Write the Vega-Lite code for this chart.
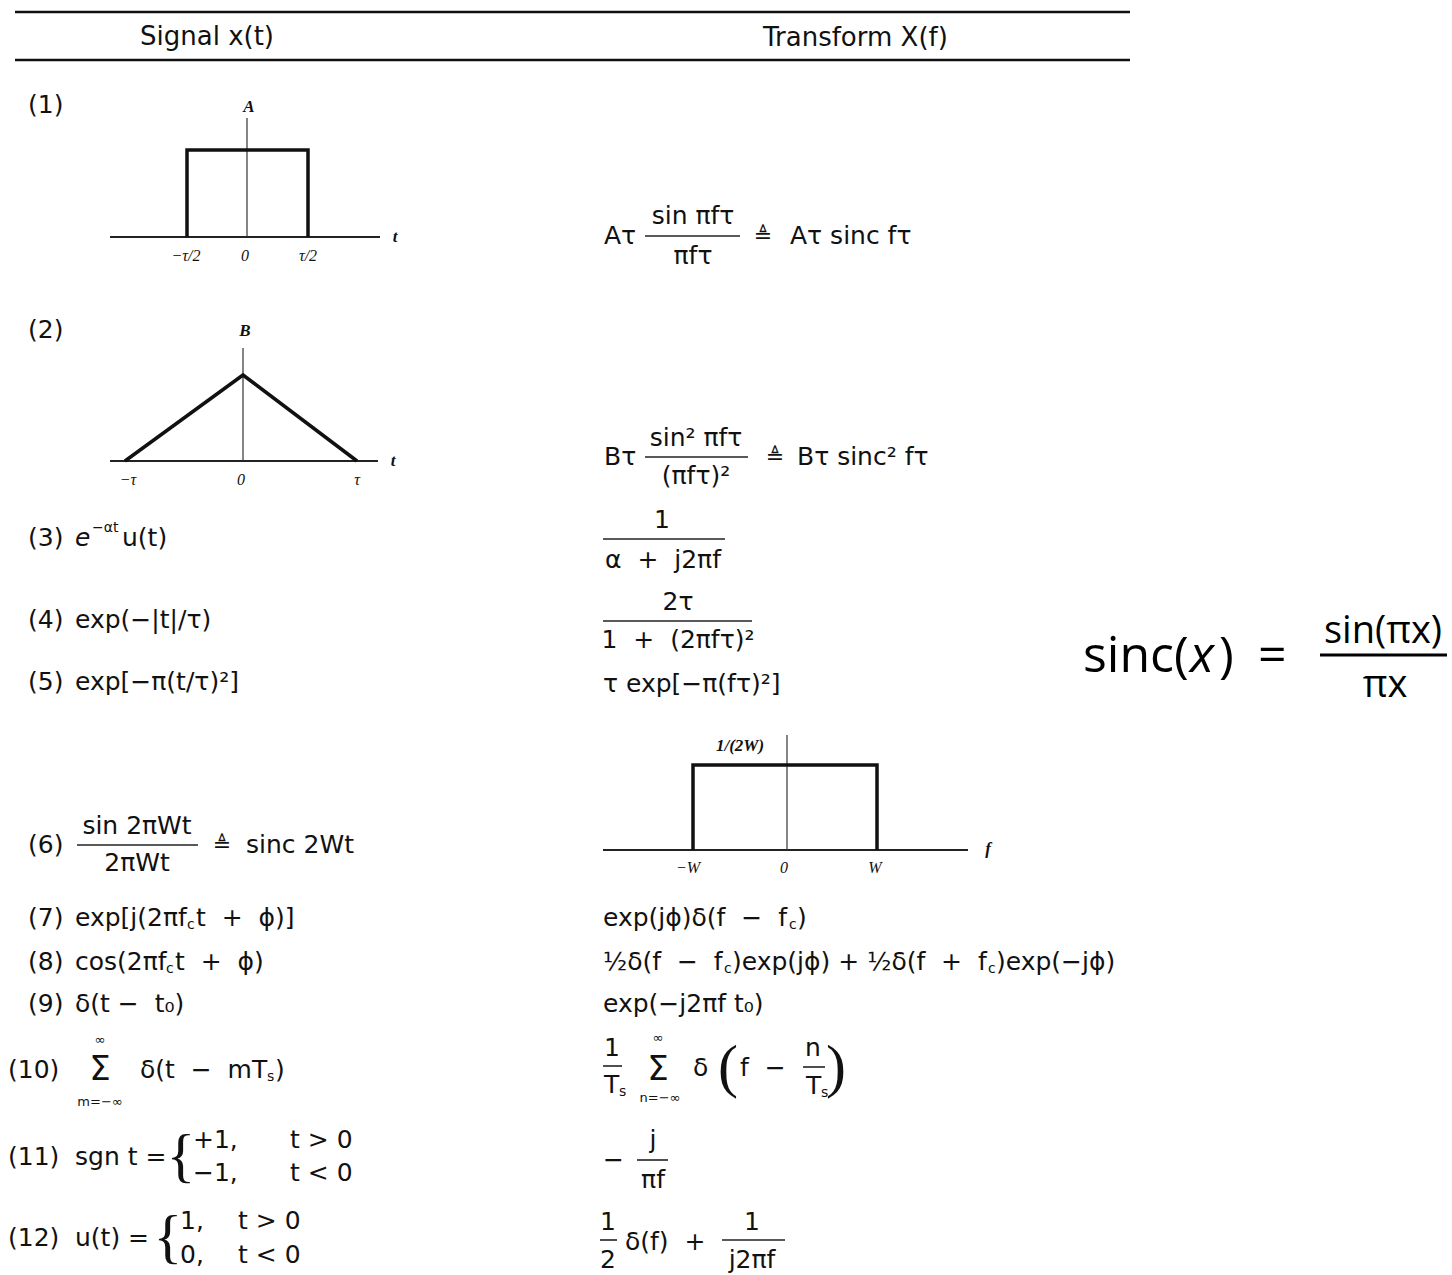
{
  "$schema": "https://vega.github.io/schema/vega-lite/v6.json",
  "width": 1452,
  "height": 1275,
  "padding": 0,
  "autosize": {"type": "none"},
  "background": "white",
  "config": {"view": {"stroke": null}},
  "datasets": {
    "rules": [
      {"k": "header", "x": 15, "y": 12, "x2": 1130, "y2": 12},
      {"k": "header", "x": 15, "y": 60, "x2": 1130, "y2": 60},
      {"k": "axis", "x": 110, "y": 237, "x2": 380, "y2": 237},
      {"k": "axis", "x": 110, "y": 461, "x2": 378, "y2": 461},
      {"k": "axis", "x": 603, "y": 850, "x2": 968, "y2": 850},
      {"k": "thin", "x": 247, "y": 118, "x2": 247, "y2": 237},
      {"k": "thin", "x": 243, "y": 348, "x2": 243, "y2": 461},
      {"k": "thin", "x": 787, "y": 735, "x2": 787, "y2": 850},
      {"k": "bar", "x": 645, "y": 236, "x2": 740, "y2": 236},
      {"k": "bar", "x": 645, "y": 457, "x2": 748, "y2": 457},
      {"k": "bar", "x": 603, "y": 539, "x2": 725, "y2": 539},
      {"k": "bar", "x": 603, "y": 621, "x2": 752, "y2": 621},
      {"k": "bar", "x": 77, "y": 845, "x2": 198, "y2": 845},
      {"k": "bar", "x": 603, "y": 1066, "x2": 622, "y2": 1066},
      {"k": "bar", "x": 803, "y": 1067, "x2": 825, "y2": 1067},
      {"k": "bar", "x": 637, "y": 1160, "x2": 668, "y2": 1160},
      {"k": "bar", "x": 600, "y": 1240, "x2": 617, "y2": 1240},
      {"k": "bar", "x": 722, "y": 1240, "x2": 785, "y2": 1240},
      {"k": "sincbar", "x": 1320, "y": 655, "x2": 1447, "y2": 655}
    ],
    "shapes": [
      {"shape": "rect1", "i": 1, "x": 187, "y": 237},
      {"shape": "rect1", "i": 2, "x": 187, "y": 150},
      {"shape": "rect1", "i": 3, "x": 308, "y": 150},
      {"shape": "rect1", "i": 4, "x": 308, "y": 237},
      {"shape": "tri2", "i": 1, "x": 125, "y": 461},
      {"shape": "tri2", "i": 2, "x": 243, "y": 375},
      {"shape": "tri2", "i": 3, "x": 357, "y": 461},
      {"shape": "rect6", "i": 1, "x": 693, "y": 850},
      {"shape": "rect6", "i": 2, "x": 693, "y": 765},
      {"shape": "rect6", "i": 3, "x": 877, "y": 765},
      {"shape": "rect6", "i": 4, "x": 877, "y": 850}
    ],
    "texts": [
      {"s": "h", "x": 140, "y": 37, "t": "Signal x(t)"},
      {"s": "h", "x": 763, "y": 38, "t": "Transform X(f)"},
      {"s": "m", "x": 28, "y": 105, "t": "(1)"},
      {"s": "m", "x": 28, "y": 330, "t": "(2)"},
      {"s": "m", "x": 28, "y": 538, "t": "(3)"},
      {"s": "m", "x": 28, "y": 620, "t": "(4)"},
      {"s": "m", "x": 28, "y": 682, "t": "(5)"},
      {"s": "m", "x": 28, "y": 845, "t": "(6)"},
      {"s": "m", "x": 28, "y": 918, "t": "(7)"},
      {"s": "m", "x": 28, "y": 962, "t": "(8)"},
      {"s": "m", "x": 28, "y": 1004, "t": "(9)"},
      {"s": "m", "x": 8, "y": 1070, "t": "(10)"},
      {"s": "m", "x": 8, "y": 1157, "t": "(11)"},
      {"s": "m", "x": 8, "y": 1238, "t": "(12)"},
      {"s": "lab", "x": 249, "y": 107, "t": "A"},
      {"s": "tick", "x": 186, "y": 256, "t": "−τ/2"},
      {"s": "tick", "x": 245, "y": 256, "t": "0"},
      {"s": "tick", "x": 308, "y": 256, "t": "τ/2"},
      {"s": "lab", "x": 395, "y": 237, "t": "t"},
      {"s": "lab", "x": 245, "y": 331, "t": "B"},
      {"s": "tick", "x": 128, "y": 480, "t": "−τ"},
      {"s": "tick", "x": 241, "y": 480, "t": "0"},
      {"s": "tick", "x": 357, "y": 480, "t": "τ"},
      {"s": "lab", "x": 393, "y": 461, "t": "t"},
      {"s": "lab", "x": 740, "y": 746, "t": "1/(2W)"},
      {"s": "tick", "x": 688, "y": 868, "t": "−W"},
      {"s": "tick", "x": 784, "y": 868, "t": "0"},
      {"s": "tick", "x": 875, "y": 868, "t": "W"},
      {"s": "lab", "x": 988, "y": 849, "t": "f"},
      {"s": "m", "x": 604, "y": 236, "t": "Aτ"},
      {"s": "mc", "x": 693, "y": 216, "t": "sin πfτ"},
      {"s": "mc", "x": 693, "y": 256, "t": "πfτ"},
      {"s": "def", "x": 763, "y": 236, "t": "≜"},
      {"s": "m", "x": 790, "y": 236, "t": "Aτ sinc fτ"},
      {"s": "m", "x": 604, "y": 457, "t": "Bτ"},
      {"s": "mc", "x": 696, "y": 438, "t": "sin² πfτ"},
      {"s": "mc", "x": 696, "y": 476, "t": "(πfτ)²"},
      {"s": "def", "x": 775, "y": 457, "t": "≜"},
      {"s": "m", "x": 797, "y": 457, "t": "Bτ sinc² fτ"},
      {"s": "mi", "x": 75, "y": 538, "t": "e"},
      {"s": "sub", "x": 92, "y": 528, "t": "−αt"},
      {"s": "m", "x": 122, "y": 538, "t": "u(t)"},
      {"s": "mc", "x": 662, "y": 520, "t": "1"},
      {"s": "mc", "x": 663, "y": 560, "t": "α\u00a0\u00a0+\u00a0\u00a0j2πf"},
      {"s": "m", "x": 75, "y": 620, "t": "exp(−|t|/τ)"},
      {"s": "mc", "x": 678, "y": 602, "t": "2τ"},
      {"s": "mc", "x": 678, "y": 640, "t": "1\u00a0\u00a0+\u00a0\u00a0(2πfτ)²"},
      {"s": "m", "x": 75, "y": 682, "t": "exp[−π(t/τ)²]"},
      {"s": "m", "x": 603, "y": 684, "t": "τ exp[−π(fτ)²]"},
      {"s": "mc", "x": 137, "y": 826, "t": "sin 2πWt"},
      {"s": "mc", "x": 137, "y": 863, "t": "2πWt"},
      {"s": "def", "x": 222, "y": 845, "t": "≜"},
      {"s": "m", "x": 246, "y": 845, "t": "sinc 2Wt"},
      {"s": "m", "x": 75, "y": 918, "t": "exp[j(2πf"},
      {"s": "sub", "x": 187, "y": 925, "t": "c"},
      {"s": "m", "x": 196, "y": 918, "t": "t\u00a0\u00a0+\u00a0\u00a0ϕ)]"},
      {"s": "m", "x": 75, "y": 962, "t": "cos(2πf"},
      {"s": "sub", "x": 166, "y": 969, "t": "c"},
      {"s": "m", "x": 175, "y": 962, "t": "t\u00a0\u00a0+\u00a0\u00a0ϕ)"},
      {"s": "m", "x": 75, "y": 1004, "t": "δ(t\u00a0−\u00a0\u00a0t₀)"},
      {"s": "sig", "x": 100, "y": 1070, "t": "Σ"},
      {"s": "lim", "x": 100, "y": 1040, "t": "∞"},
      {"s": "lim", "x": 100, "y": 1102, "t": "m=−∞"},
      {"s": "m", "x": 140, "y": 1070, "t": "δ(t\u00a0\u00a0−\u00a0\u00a0mT"},
      {"s": "sub", "x": 267, "y": 1077, "t": "s"},
      {"s": "m", "x": 275, "y": 1070, "t": ")"},
      {"s": "m", "x": 75, "y": 1157, "t": "sgn t ="},
      {"s": "brace", "x": 181, "y": 1157, "t": "{"},
      {"s": "m", "x": 193, "y": 1140, "t": "+1,"},
      {"s": "m", "x": 290, "y": 1140, "t": "t > 0"},
      {"s": "m", "x": 193, "y": 1173, "t": "−1,"},
      {"s": "m", "x": 290, "y": 1173, "t": "t < 0"},
      {"s": "m", "x": 75, "y": 1238, "t": "u(t) ="},
      {"s": "brace", "x": 168, "y": 1238, "t": "{"},
      {"s": "m", "x": 180, "y": 1221, "t": "1,"},
      {"s": "m", "x": 238, "y": 1221, "t": "t > 0"},
      {"s": "m", "x": 180, "y": 1255, "t": "0,"},
      {"s": "m", "x": 238, "y": 1255, "t": "t < 0"},
      {"s": "m", "x": 603, "y": 918, "t": "exp(jϕ)δ(f\u00a0\u00a0−\u00a0\u00a0f"},
      {"s": "sub", "x": 789, "y": 925, "t": "c"},
      {"s": "m", "x": 797, "y": 918, "t": ")"},
      {"s": "m", "x": 603, "y": 962, "t": "½δ(f\u00a0\u00a0−\u00a0\u00a0f"},
      {"s": "sub", "x": 724, "y": 969, "t": "c"},
      {"s": "m", "x": 732, "y": 962, "t": ")exp(jϕ)\u00a0+\u00a0½δ(f\u00a0\u00a0+\u00a0\u00a0f"},
      {"s": "sub", "x": 988, "y": 969, "t": "c"},
      {"s": "m", "x": 996, "y": 962, "t": ")exp(−jϕ)"},
      {"s": "m", "x": 603, "y": 1004, "t": "exp(−j2πf t₀)"},
      {"s": "mc", "x": 612, "y": 1048, "t": "1"},
      {"s": "m", "x": 604, "y": 1085, "t": "T"},
      {"s": "sub", "x": 619, "y": 1092, "t": "s"},
      {"s": "sig", "x": 658, "y": 1070, "t": "Σ"},
      {"s": "lim", "x": 658, "y": 1038, "t": "∞"},
      {"s": "lim", "x": 660, "y": 1098, "t": "n=−∞"},
      {"s": "m", "x": 693, "y": 1068, "t": "δ"},
      {"s": "brace", "x": 728, "y": 1068, "t": "("},
      {"s": "m", "x": 740, "y": 1068, "t": "f\u00a0\u00a0−"},
      {"s": "mc", "x": 813, "y": 1048, "t": "n"},
      {"s": "m", "x": 806, "y": 1086, "t": "T"},
      {"s": "sub", "x": 821, "y": 1093, "t": "s"},
      {"s": "brace", "x": 836, "y": 1068, "t": ")"},
      {"s": "m", "x": 603, "y": 1160, "t": "−"},
      {"s": "mc", "x": 653, "y": 1140, "t": "j"},
      {"s": "mc", "x": 653, "y": 1180, "t": "πf"},
      {"s": "mc", "x": 608, "y": 1222, "t": "1"},
      {"s": "mc", "x": 608, "y": 1260, "t": "2"},
      {"s": "m", "x": 625, "y": 1242, "t": "δ(f)\u00a0\u00a0+"},
      {"s": "mc", "x": 752, "y": 1222, "t": "1"},
      {"s": "mc", "x": 752, "y": 1260, "t": "j2πf"},
      {"s": "sinc", "x": 1083, "y": 657, "t": "sinc("},
      {"s": "sinci", "x": 1190, "y": 657, "t": "x"},
      {"s": "sinc", "x": 1219, "y": 657, "t": ")"},
      {"s": "sinc", "x": 1258, "y": 657, "t": "="},
      {"s": "sincf", "x": 1383, "y": 632, "t": "sin(πx)"},
      {"s": "sincf", "x": 1385, "y": 686, "t": "πx"}
    ]
  },
  "encoding": {
    "x": {"field": "x", "type": "quantitative", "scale": {"domain": [0, 1452], "nice": false, "zero": false}, "axis": null},
    "y": {"field": "y", "type": "quantitative", "scale": {"domain": [0, 1275], "nice": false, "zero": false, "reverse": true}, "axis": null}
  },
  "layer": [
    {"data": {"name": "rules"}, "transform": [{"filter": "datum.k === 'header'"}], "mark": {"type": "rule", "strokeWidth": 2.5, "color": "#111"}, "encoding": {"x2": {"field": "x2"}, "y2": {"field": "y2"}}},
    {"data": {"name": "rules"}, "transform": [{"filter": "datum.k === 'axis'"}], "mark": {"type": "rule", "strokeWidth": 1.8, "color": "#222"}, "encoding": {"x2": {"field": "x2"}, "y2": {"field": "y2"}}},
    {"data": {"name": "rules"}, "transform": [{"filter": "datum.k === 'thin'"}], "mark": {"type": "rule", "strokeWidth": 1.2, "color": "#333"}, "encoding": {"x2": {"field": "x2"}, "y2": {"field": "y2"}}},
    {"data": {"name": "rules"}, "transform": [{"filter": "datum.k === 'bar'"}], "mark": {"type": "rule", "strokeWidth": 1.6, "color": "#222"}, "encoding": {"x2": {"field": "x2"}, "y2": {"field": "y2"}}},
    {"data": {"name": "rules"}, "transform": [{"filter": "datum.k === 'sincbar'"}], "mark": {"type": "rule", "strokeWidth": 3, "color": "#000"}, "encoding": {"x2": {"field": "x2"}, "y2": {"field": "y2"}}},
    {"data": {"name": "shapes"}, "mark": {"type": "line", "strokeWidth": 3.5, "color": "#111", "strokeJoin": "miter"}, "encoding": {"detail": {"field": "shape"}, "order": {"field": "i", "type": "quantitative"}}},
    {"data": {"name": "texts"}, "transform": [{"filter": "datum.s === 'h'"}], "mark": {"type": "text", "align": "left", "baseline": "middle", "font": "DejaVu Sans", "fontSize": 26, "color": "#111"}, "encoding": {"text": {"field": "t"}}},
    {"data": {"name": "texts"}, "transform": [{"filter": "datum.s === 'm'"}], "mark": {"type": "text", "align": "left", "baseline": "middle", "font": "DejaVu Sans", "fontSize": 25, "color": "#111"}, "encoding": {"text": {"field": "t"}}},
    {"data": {"name": "texts"}, "transform": [{"filter": "datum.s === 'mi'"}], "mark": {"type": "text", "align": "left", "baseline": "middle", "font": "DejaVu Sans", "fontStyle": "italic", "fontSize": 25, "color": "#111"}, "encoding": {"text": {"field": "t"}}},
    {"data": {"name": "texts"}, "transform": [{"filter": "datum.s === 'mc'"}], "mark": {"type": "text", "align": "center", "baseline": "middle", "font": "DejaVu Sans", "fontSize": 25, "color": "#111"}, "encoding": {"text": {"field": "t"}}},
    {"data": {"name": "texts"}, "transform": [{"filter": "datum.s === 'lab'"}], "mark": {"type": "text", "align": "center", "baseline": "middle", "font": "Liberation Serif", "fontStyle": "italic", "fontWeight": "bold", "fontSize": 17, "color": "#111"}, "encoding": {"text": {"field": "t"}}},
    {"data": {"name": "texts"}, "transform": [{"filter": "datum.s === 'tick'"}], "mark": {"type": "text", "align": "center", "baseline": "middle", "font": "Liberation Serif", "fontStyle": "italic", "fontSize": 16, "color": "#111"}, "encoding": {"text": {"field": "t"}}},
    {"data": {"name": "texts"}, "transform": [{"filter": "datum.s === 'sub'"}], "mark": {"type": "text", "align": "left", "baseline": "middle", "font": "DejaVu Sans", "fontSize": 14, "color": "#111"}, "encoding": {"text": {"field": "t"}}},
    {"data": {"name": "texts"}, "transform": [{"filter": "datum.s === 'lim'"}], "mark": {"type": "text", "align": "center", "baseline": "middle", "font": "DejaVu Sans", "fontSize": 13, "color": "#111"}, "encoding": {"text": {"field": "t"}}},
    {"data": {"name": "texts"}, "transform": [{"filter": "datum.s === 'sig'"}], "mark": {"type": "text", "align": "center", "baseline": "middle", "font": "DejaVu Sans", "fontSize": 34, "color": "#111"}, "encoding": {"text": {"field": "t"}}},
    {"data": {"name": "texts"}, "transform": [{"filter": "datum.s === 'brace'"}], "mark": {"type": "text", "align": "center", "baseline": "middle", "font": "Liberation Serif", "fontSize": 60, "color": "#111"}, "encoding": {"text": {"field": "t"}}},
    {"data": {"name": "texts"}, "transform": [{"filter": "datum.s === 'def'"}], "mark": {"type": "text", "align": "center", "baseline": "middle", "font": "DejaVu Sans", "fontSize": 22, "color": "#111"}, "encoding": {"text": {"field": "t"}}},
    {"data": {"name": "texts"}, "transform": [{"filter": "datum.s === 'sinc'"}], "mark": {"type": "text", "align": "left", "baseline": "middle", "font": "Open Sans", "fontSize": 50, "color": "#000"}, "encoding": {"text": {"field": "t"}}},
    {"data": {"name": "texts"}, "transform": [{"filter": "datum.s === 'sinci'"}], "mark": {"type": "text", "align": "left", "baseline": "middle", "font": "Open Sans", "fontStyle": "italic", "fontSize": 50, "color": "#000"}, "encoding": {"text": {"field": "t"}}},
    {"data": {"name": "texts"}, "transform": [{"filter": "datum.s === 'sincf'"}], "mark": {"type": "text", "align": "center", "baseline": "middle", "font": "Open Sans", "fontSize": 38, "color": "#000"}, "encoding": {"text": {"field": "t"}}}
  ]
}
